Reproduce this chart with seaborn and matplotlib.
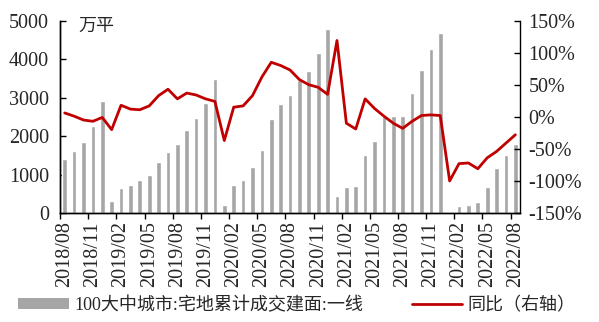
import numpy as np
import pandas as pd
import matplotlib.pyplot as plt
import seaborn as sns
from matplotlib.patches import Patch
from matplotlib.lines import Line2D

months = pd.date_range('2018-08-01', '2022-08-01', freq='MS').strftime('%Y/%m').tolist()

# 累计成交建面（万平），2022/01 无成交
area = [1400, 1600, 1845, 2260, 2920,
        310, 650, 725, 860, 975, 1330, 1590, 1790, 2170, 2465, 2870, 3475,
        207, 725, 860, 1190, 1630, 2430, 2830, 3070, 3450, 3680, 4165, 4770,
        430, 665, 700, 1500, 1880, 2510, 2510, 2510, 3130, 3725, 4270, 4670,
        0, 172, 198, 293, 664, 1164, 1509, 1800]

# 同比（%）
yoy = [6, 1, -5, -7, -1,
       -20, 18, 12, 11, 17, 33, 43, 28, 37, 34, 28, 24,
       -37, 15, 17, 33, 62, 85, 80, 73, 58, 50, 46, 35,
       119, -10, -19, 28, 13, 1, -10, -18, -7, 2, 3, 2,
       -100, -73, -72, -81, -64, -54, -41, -28]

df = pd.DataFrame({'month': months, 'area': area, 'yoy': yoy})
df['pos'] = np.arange(len(df))

sns.set_style('white')
plt.rcParams['font.family'] = ['Liberation Serif', 'Noto Sans CJK SC']
plt.rcParams['axes.unicode_minus'] = False

fig = plt.figure(figsize=(5.99, 3.22), dpi=100)
ax = fig.add_axes([0.1002, 0.3385, 0.768, 0.5975])

bar_col = '#A6A6A6'
line_col = '#C00000'

sns.barplot(data=df, x='month', y='area', color=bar_col, width=0.5,
            saturation=1, ax=ax)
ax.set_xlim(-0.5, len(df) - 0.5)
ax.set_ylim(0, 5000)
ax.set_yticks(range(0, 5001, 1000))
ax.set_xlabel('')
ax.set_ylabel('')

ax2 = ax.twinx()
sns.lineplot(data=df, x='pos', y='yoy', color=line_col, linewidth=2, ax=ax2)
ax2.set_ylim(-150, 150)
ax2.set_yticks(range(-150, 151, 50))
ax2.set_yticklabels([f'{v}%' for v in range(-150, 151, 50)])
ax2.set_ylabel('')
ax2.set_xlim(-0.5, len(df) - 0.5)

# x 轴：每 3 个月一个标签，刻度在类别边界
lab_pos = df['pos'][::3]
ax.set_xticks(lab_pos)
ax.set_xticklabels(df['month'][::3], rotation=90)
ax.set_xticks(lab_pos - 0.5, minor=True)
ax.tick_params(axis='x', which='major', length=0, pad=6, labelsize=14.5)
ax.tick_params(axis='x', which='minor', length=4, width=1, direction='out',
               color='black', bottom=True)
ax.tick_params(axis='y', length=4, width=1, direction='in', color='black',
               labelsize=14.5, pad=8, left=True)
ax2.tick_params(axis='y', length=4, width=1, direction='in', color='black',
                labelsize=14.5, pad=6, right=True)

for a in (ax, ax2):
    a.spines['top'].set_visible(False)
    for s in ('left', 'bottom', 'right'):
        a.spines[s].set_color('black')
        a.spines[s].set_linewidth(1)
ax.spines['right'].set_visible(False)

ax.text(0.04, 0.97, '万平', transform=ax.transAxes, fontsize=13,
        ha='left', va='center')

handles = [Patch(facecolor=bar_col, edgecolor='none'),
           Line2D([0], [0], color=line_col, linewidth=2)]
labels = ['100大中城市:宅地累计成交建面:一线', '同比（右轴）']
fig.legend(handles, labels, loc='center left', bbox_to_anchor=(0.03, 0.052),
           ncol=2, frameon=False, fontsize=13, handlelength=2.8,
           handleheight=0.5, handletextpad=0.3, columnspacing=2.7,
           borderaxespad=0, borderpad=0)

fig.savefig('out.png', dpi=100)
